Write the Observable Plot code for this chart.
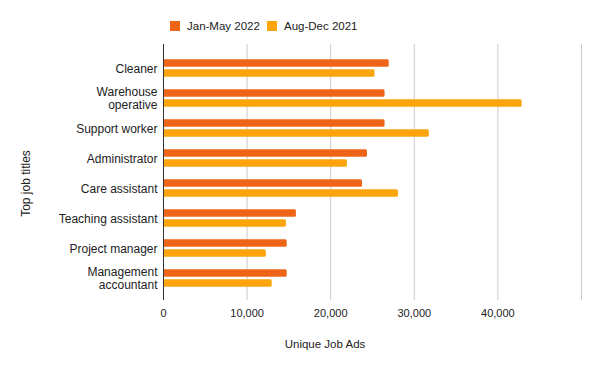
<!DOCTYPE html>
<html>
<head>
<meta charset="utf-8">
<script src="https://cdn.jsdelivr.net/npm/d3@7"></script>
<script src="https://cdn.jsdelivr.net/npm/@observablehq/plot@0.6"></script>
<style>
  html, body { margin: 0; padding: 0; background: #fff; }
  body { width: 600px; height: 371px; overflow: hidden; font-family: Arial, "Liberation Sans", sans-serif; }
  #legend { height: 44px; position: relative; font-size: 11.5px; color: #222; }
  .item { position: absolute; top: 20px; display: flex; align-items: center; height: 11px; }
  .sw { width: 10px; height: 10px; margin-right: 7px; }
</style>
</head>
<body>
<div id="legend"></div>
<div id="chart"></div>
<script>
const titles = ["Cleaner", "Warehouse\noperative", "Support worker", "Administrator", "Care assistant", "Teaching assistant", "Project manager", "Management\naccountant"];
const jan2022 = [27000, 26500, 26500, 24400, 23800, 15900, 14800, 14800];
const aug2021 = [25300, 42900, 31800, 22000, 28100, 14700, 12300, 13000];
const seriesNames = ["Jan-May 2022", "Aug-Dec 2021"];
const seriesColors = ["#ee6518", "#fca40b"];
const tickValues = [0, 10000, 20000, 30000, 40000];
const gridValues = [10000, 20000, 30000, 40000, 50000];

const rows = titles.map((t, i) => ({title: t, jan: jan2022[i], aug: aug2021[i]}));

// legend
const legend = document.getElementById("legend");
const legendLeft = [170, 267];
seriesNames.forEach((name, i) => {
  const it = document.createElement("div");
  it.className = "item";
  it.style.left = legendLeft[i] + "px";
  it.innerHTML = `<div class="sw" style="background:${seriesColors[i]}"></div><span>${name}</span>`;
  legend.appendChild(it);
});

const chart = Plot.plot({
  width: 600,
  height: 327,
  marginTop: 0,
  marginBottom: 71,
  marginLeft: 163,
  marginRight: 19,
  style: {fontFamily: "Arial, 'Liberation Sans', sans-serif", color: "#222", background: "#fff"},
  x: {domain: [0, 50000]},
  y: {domain: titles, range: [7, 251], padding: 0},
  marks: [
    Plot.ruleX(gridValues, {stroke: "#cccccc", strokeWidth: 1}),
    Plot.barX(rows, {x: "jan", y: "title", fill: seriesColors[0], insetTop: 11.25, insetBottom: 11.25, dy: -5, rx: 1.5}),
    Plot.barX(rows, {x: "aug", y: "title", fill: seriesColors[1], insetTop: 11.25, insetBottom: 11.25, dy: 5, rx: 1.5}),
    Plot.ruleX([0], {stroke: "#333", strokeWidth: 1}),
    Plot.axisX({ticks: tickValues, tickFormat: d3.format(","), tickSize: 0, tickPadding: 9, fontSize: 11, label: null}),
    Plot.axisY({tickSize: 0, tickPadding: 6, fontSize: 12, lineHeight: 1.1, label: null}),
    Plot.text(["Unique Job Ads"], {text: d => d, frameAnchor: "bottom", dx: -47.5, dy: 44, lineAnchor: "middle", fontSize: 11.5, fill: "#222"}),
    Plot.text(["Top job titles"], {text: d => d, frameAnchor: "left", dx: -137, dy: 11, rotate: -90, textAnchor: "middle", lineAnchor: "middle", fontSize: 12, fill: "#222"})
  ]
});
document.getElementById("chart").appendChild(chart);
</script>
</body>
</html>
